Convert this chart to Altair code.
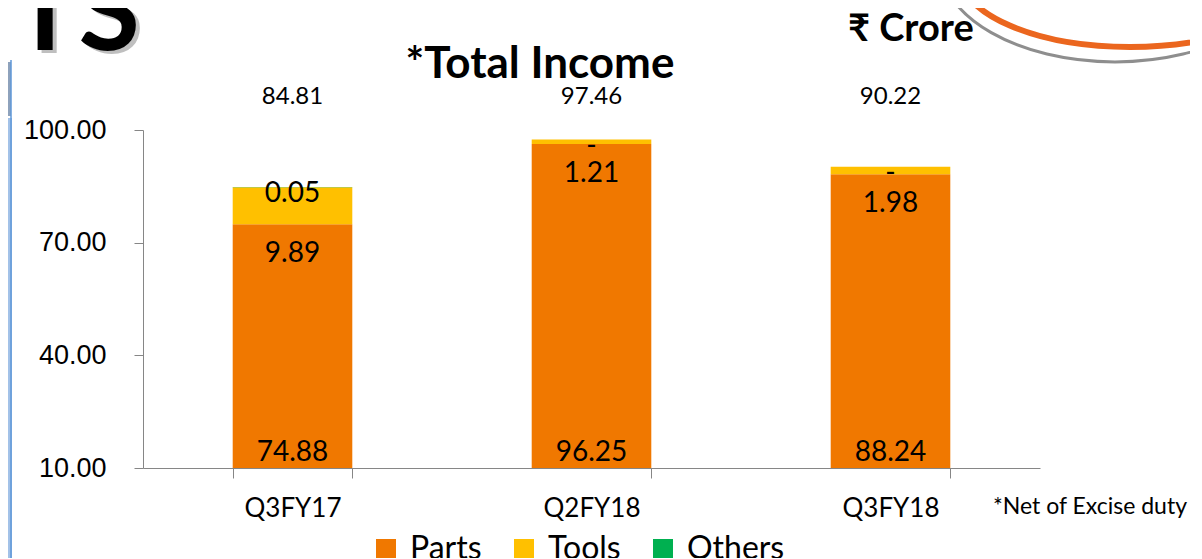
import altair as alt
import pandas as pd

periods = ["Q3FY17", "Q2FY18", "Q3FY18"]
parts = [74.88, 96.25, 88.24]
tools = [9.89, 1.21, 1.98]
others = [0.05, 0.0, 0.0]
totals = [84.81, 97.46, 90.22]
series = ["Parts", "Tools", "Others"]
colors = ["#F07800", "#FFC000", "#00B050"]
y_ticks = [10, 40, 70, 100]
y_min, y_max = 10, 100

rows = []
for i, p in enumerate(periods):
    base = 0.0
    for k, (s, vals) in enumerate(zip(series, [parts, tools, others])):
        v = vals[i]
        rows.append(dict(period=p, series=s, value=v, start=base, end=base + v, order=k,
                         label=("-" if v == 0 else f"{v:.2f}")))
        base += v
df = pd.DataFrame(rows)
tot_df = pd.DataFrame({"period": periods, "total": [f"{t:.2f}" for t in totals]})
one = pd.DataFrame({"t": [""]})

AXC = "#868686"
FONT = "Lato"

x_enc = alt.X("period:N", sort=periods,
              scale=alt.Scale(paddingInner=0.6, paddingOuter=0.3),
              axis=alt.Axis(title=None, labelAngle=0, tickBand="extent", labelFont=FONT,
                            labelFontSize=26, labelColor="black", tickSize=10, labelPadding=17,
                            domainColor=AXC, tickColor=AXC, grid=False))
y_scale = alt.Scale(domain=[y_min, y_max], nice=False, zero=False)

bars = alt.Chart(df).mark_bar(clip=True).encode(
    x=x_enc,
    y=alt.Y("start:Q", scale=y_scale,
            axis=alt.Axis(values=y_ticks, format=".2f", title=None, labelFont="Liberation Sans",
                          labelFontSize=27, labelColor="black", tickSize=9, labelPadding=28,
                          domainColor=AXC, tickColor=AXC, grid=False)),
    y2="end:Q",
    color=alt.Color("series:N", scale=alt.Scale(domain=series, range=colors),
                    legend=alt.Legend(orient="none", legendX=227, legendY=403, direction="horizontal",
                                      title=None, symbolType="square", symbolSize=400,
                                      symbolStrokeWidth=0, labelFont=FONT, labelFontSize=32,
                                      labelColor="black", columnPadding=26, labelOffset=8)),
    order="order:Q",
)

parts_lbl = alt.Chart(df).transform_filter(alt.datum.series == "Parts").mark_text(
    baseline="alphabetic", dy=-7, fontSize=28, font=FONT, color="black").encode(
    x=x_enc, y=alt.datum(y_min), text="label:N")

tools_lbl = alt.Chart(df).transform_filter(alt.datum.series == "Tools").mark_text(
    baseline="middle", dy=30, fontSize=28, font=FONT, color="black").encode(
    x=x_enc, y=alt.Y("start:Q", scale=y_scale), text="label:N")

others_lbl = alt.Chart(df).transform_filter(alt.datum.series == "Others").mark_text(
    baseline="middle", dy=7, fontSize=28, font=FONT, color="black").encode(
    x=x_enc, y=alt.Y("start:Q", scale=y_scale), text="label:N")

tot_lbl = alt.Chart(tot_df).mark_text(baseline="middle", fontSize=24, font=FONT, color="black").encode(
    x=x_enc, y=alt.value(-33), text="total:N")

title_t = alt.Chart(one).mark_text(text="*Total Income", fontSize=44, fontWeight="bold", font=FONT,
                                   baseline="middle", align="center", color="black").encode(
    x=alt.value(397), y=alt.value(-65))

crore_t = alt.Chart(one).mark_text(text="₹ Crore", fontSize=38, fontWeight="bold", font=FONT,
                                   baseline="alphabetic", align="left", color="black").encode(
    x=alt.value(705), y=alt.value(-89))

net_t = alt.Chart(one).mark_text(text="*Net of Excise duty", fontSize=23, font=FONT,
                                 baseline="middle", align="left", color="black").encode(
    x=alt.value(850), y=alt.value(377))

hl_shadow = alt.Chart(one).mark_text(text="HIGHLIGHTS", fontSize=112, fontWeight="bold", font=FONT,
                                     baseline="alphabetic", align="right", color="#808080",
                                     opacity=0.5).encode(x=alt.value(1), y=alt.value(-77))
hl_t = alt.Chart(one).mark_text(text="HIGHLIGHTS", fontSize=112, fontWeight="bold", font=FONT,
                                baseline="alphabetic", align="right", color="black").encode(
    x=alt.value(-3), y=alt.value(-80))

panel = alt.Chart(one).mark_rect(color="#A3C2E8").encode(
    x=alt.value(-135), x2=alt.value(-131), y=alt.value(-12), y2=alt.value(440))
panel_edge = alt.Chart(one).mark_rule(color="#5E97D8", strokeWidth=1.5).encode(
    x=alt.value(-132), y=alt.value(-70), y2=alt.value(440))
knob = alt.Chart(one).mark_rect(color="#8EA2BC").encode(
    x=alt.value(-135), x2=alt.value(-132), y=alt.value(-68), y2=alt.value(-14))

gray_arc = alt.Chart(one).mark_point(
    shape="M -1 0 A 1 0.571 0 1 0 1 0 A 1 0.571 0 1 0 -1 0 Z", filled=False,
    stroke="#8E8E8E", strokeWidth=3, size=122500, opacity=1).encode(
    x=alt.value(972), y=alt.value(-168))
orange_arc = alt.Chart(one).mark_point(
    shape="M -1 0 A 1 0.429 0 1 0 1 0 A 1 0.429 0 1 0 -1 0 Z", filled=False,
    stroke="#EB661E", strokeWidth=6, size=115600, opacity=1).encode(
    x=alt.value(987), y=alt.value(-156))

chart = alt.layer(
    panel, knob, panel_edge, gray_arc, orange_arc, hl_shadow, hl_t,
    bars, parts_lbl, tools_lbl, others_lbl, tot_lbl, title_t, crore_t, net_t,
).properties(
    width=897, height=338,
    padding={"left": 135, "top": 122, "right": 150, "bottom": 90},
    autosize=alt.AutoSizeParams(type="none"),
    background="white",
).configure_view(stroke=None)

chart.save("out.html", embed_options={"renderer": "svg", "actions": False})
